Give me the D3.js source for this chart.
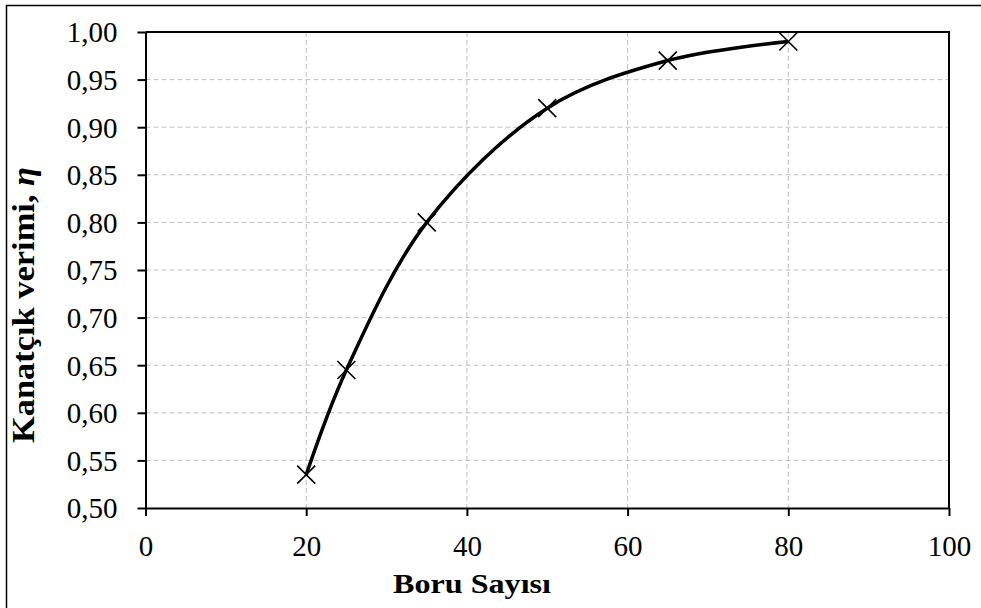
<!DOCTYPE html>
<html><head><meta charset="utf-8">
<script src="https://cdn.jsdelivr.net/npm/d3@7"></script>
<style>html,body{margin:0;padding:0;background:#fff;}svg{display:block;}</style>
</head><body>
<svg id="c" width="981" height="608"></svg>
<script>
const xTicks = [0, 20, 40, 60, 80, 100];
const yTicks = [0.50, 0.55, 0.60, 0.65, 0.70, 0.75, 0.80, 0.85, 0.90, 0.95, 1.00];
const boruSayisi = [20, 25, 35, 50, 65, 80];
const verim = [0.535, 0.645, 0.80, 0.92, 0.97, 0.99];
const xTitle = "Boru Sayısı";
const yTitle = "Kanatçık verimi, ";
const yTitleSym = "η";

const svg = d3.select("#c");
const L = 145.5, R = 949, T = 32, B = 508;
const x = d3.scaleLinear().domain([0, 100]).range([L, R]);
const y = d3.scaleLinear().domain([0.5, 1]).range([B, T]);
const font = "'Liberation Serif','Times New Roman',serif";

// outer frame
svg.append("rect").attr("x", 6.5).attr("y", 5.5).attr("width", 1000).attr("height", 700)
  .attr("fill", "none").attr("stroke", "#000").attr("stroke-width", 1.5);

// grid
svg.append("g").selectAll("line").data(yTicks.slice(1, -1)).join("line")
  .attr("x1", L).attr("x2", R).attr("y1", d => y(d)).attr("y2", d => y(d))
  .attr("stroke", "#bfbfbf").attr("stroke-width", 1).attr("stroke-dasharray", "5,3");
svg.append("g").selectAll("line").data(xTicks.slice(1, -1)).join("line")
  .attr("y1", T).attr("y2", B).attr("x1", d => x(d)).attr("x2", d => x(d))
  .attr("stroke", "#bfbfbf").attr("stroke-width", 1).attr("stroke-dasharray", "5,3");

// top & right border
svg.append("path").attr("d", `M${L},${T}H${R}V${B}`).attr("fill", "none")
  .attr("stroke", "#000").attr("stroke-width", 2);

// axes
const xAxis = d3.axisBottom(x).tickValues(xTicks).tickSize(8).tickSizeOuter(0).tickFormat(d3.format("d"));
const gx = svg.append("g").attr("transform", `translate(0,${B})`).call(xAxis);
gx.select(".domain").attr("stroke-width", 2);
gx.selectAll(".tick line").attr("stroke-width", 2);
gx.selectAll(".tick text").attr("font-family", font).attr("font-size", 29).attr("fill", "#000")
  .attr("y", 0).attr("dy", 0).attr("transform", "translate(0,48)");

const fmt = d => d.toFixed(2).replace(".", ",");
const yAxis = d3.axisLeft(y).tickValues(yTicks).tickSize(8).tickSizeOuter(0).tickFormat(fmt);
const gy = svg.append("g").attr("transform", `translate(${L},0)`).call(yAxis);
gy.select(".domain").attr("stroke-width", 2);
gy.selectAll(".tick line").attr("stroke-width", 2);
gy.selectAll(".tick text").attr("font-family", font).attr("font-size", 29).attr("fill", "#000")
  .attr("x", -28).attr("dy", "0.34em");

// curve
const pts = boruSayisi.map((b, i) => [x(b), y(verim[i])]);
svg.append("path").attr("d", d3.line().curve(d3.curveCatmullRom.alpha(0.5))(pts))
  .attr("fill", "none").attr("stroke", "#000").attr("stroke-width", 3.5);

// markers
const s = 9;
svg.append("g").selectAll("path").data(pts).join("path")
  .attr("d", d => `M${d[0]-s},${d[1]-s}L${d[0]+s},${d[1]+s}M${d[0]-s},${d[1]+s}L${d[0]+s},${d[1]-s}`)
  .attr("stroke", "#000").attr("stroke-width", 1.6).attr("fill", "none");

// titles
svg.append("text").attr("x", 472).attr("y", 593).attr("text-anchor", "middle")
  .attr("font-family", font).attr("font-weight", "bold").attr("font-size", 28)
  .attr("textLength", 158).attr("lengthAdjust", "spacingAndGlyphs").text(xTitle);
const yt = svg.append("text").attr("transform", `translate(34,305) rotate(-90)`).attr("text-anchor", "middle")
  .attr("font-family", font).attr("font-weight", "bold").attr("font-size", 31)
  .attr("textLength", 276).attr("lengthAdjust", "spacingAndGlyphs");
yt.append("tspan").text(yTitle);
yt.append("tspan").attr("font-style", "italic").text(yTitleSym);
</script>
</body></html>
